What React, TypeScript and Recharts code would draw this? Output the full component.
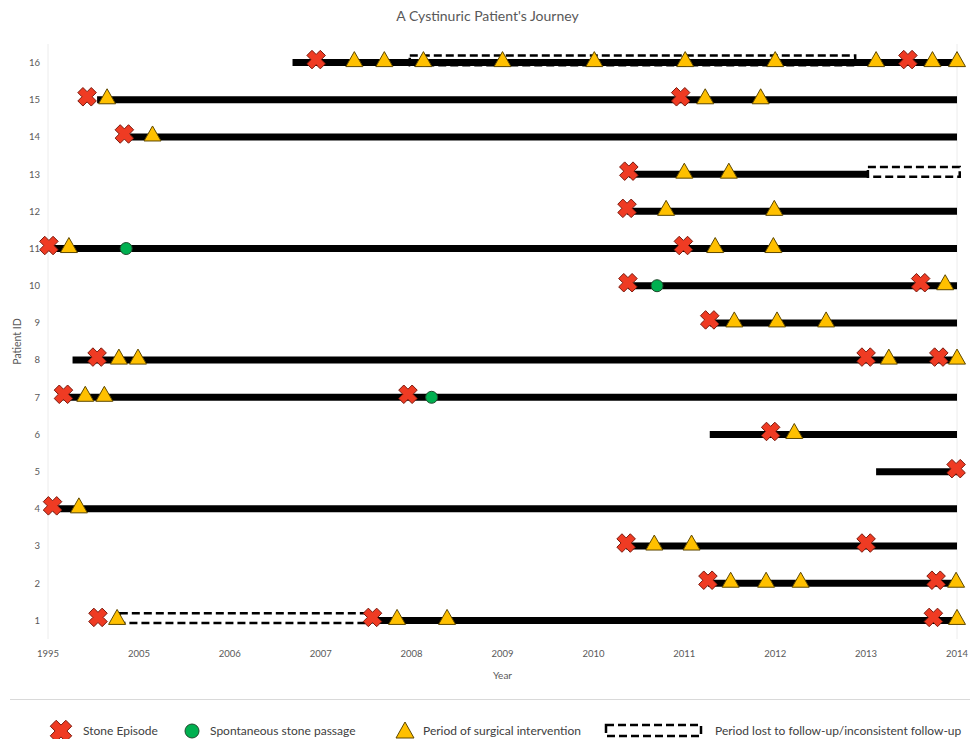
import React from "react";
import {
  ScatterChart,
  Scatter,
  XAxis,
  YAxis,
  CartesianGrid,
  ReferenceLine,
  ReferenceArea,
} from "recharts";

// ---- data ----
const patientIds = [1, 2, 3, 4, 5, 6, 7, 8, 9, 10, 11, 12, 13, 14, 15, 16];
const yearTicks = [2004, 2005, 2006, 2007, 2008, 2009, 2010, 2011, 2012, 2013, 2014];

// follow-up span per patient (solid black bar)
const followStart = [2007.57, 2011.26, 2010.36, 2004.06, 2013.11, 2011.28, 2004.17, 2004.27, 2011.28, 2010.38, 2004.02, 2010.37, 2010.39, 2004.9, 2004.54, 2006.69];
const followEnd = [2014, 2014, 2014, 2014, 2014, 2014, 2014, 2014, 2014, 2014, 2014, 2014, 2013.02, 2014, 2014, 2014];

// lost to follow-up (dashed box)
const lostPatient = [1, 13, 16];
const lostStart = [2004.79, 2013.02, 2007.98];
const lostEnd = [2007.54, 2014.03, 2012.88];

// stone episodes
const stonePatient = [16, 16, 15, 15, 14, 13, 12, 11, 11, 10, 10, 9, 8, 8, 8, 7, 7, 6, 5, 4, 3, 3, 2, 2, 1, 1, 1];
const stoneYear = [2006.95, 2013.46, 2004.43, 2010.96, 2004.84, 2010.39, 2010.37, 2004.01, 2010.99, 2010.38, 2013.6, 2011.28, 2004.54, 2013.0, 2013.8, 2004.17, 2007.96, 2011.95, 2013.99, 2004.05, 2010.36, 2013.0, 2011.26, 2013.77, 2004.55, 2007.57, 2013.74];

// surgical interventions
const surgeryPatient = [16, 16, 16, 16, 16, 16, 16, 16, 16, 16, 15, 15, 15, 14, 13, 13, 12, 12, 11, 11, 11, 10, 9, 9, 9, 8, 8, 8, 8, 7, 7, 6, 4, 3, 3, 2, 2, 2, 2, 1, 1, 1, 1];
const surgeryYear = [2007.37, 2007.7, 2008.13, 2009.0, 2010.01, 2011.01, 2012.0, 2013.11, 2013.73, 2014.0, 2004.65, 2011.23, 2011.84, 2005.15, 2011.0, 2011.49, 2010.8, 2011.99, 2004.23, 2011.34, 2011.98, 2013.87, 2011.55, 2012.02, 2012.56, 2004.78, 2004.99, 2013.25, 2014.0, 2004.41, 2004.62, 2012.21, 2004.34, 2010.67, 2011.08, 2011.51, 2011.9, 2012.28, 2013.99, 2004.76, 2007.84, 2008.39, 2014.0];

// spontaneous stone passage
const passagePatient = [11, 10, 7];
const passageYear = [2004.86, 2010.7, 2008.22];

const stoneData = stoneYear.map((year, i) => ({ year, patient: stonePatient[i] }));
const surgeryData = surgeryYear.map((year, i) => ({ year, patient: surgeryPatient[i] }));
const passageData = passageYear.map((year, i) => ({ year, patient: passagePatient[i] }));

const minorTicks: number[] = [];
for (let i = 0; i <= 50; i++) minorTicks.push(Math.round((2004 + i * 0.2) * 10) / 10);

const FONT = "Lato, 'Open Sans', sans-serif";
const RED = "#EF3B23";
const GOLD = "#FFC000";
const GREEN = "#00B050";

function crossPath(cx: number, cy: number, L: number, w: number) {
  const pts = [
    [-w, -L], [w, -L], [w, -w], [L, -w], [L, w], [w, w],
    [w, L], [-w, L], [-w, w], [-L, w], [-L, -w], [-w, -w],
  ];
  const s = Math.SQRT1_2;
  return pts
    .map(([dx, dy]) => `${cx + (dx - dy) * s},${cy + (dx + dy) * s}`)
    .join(" ");
}

function CrossIcon({ cx, cy, size = 9.5 }: { cx: number; cy: number; size?: number }) {
  return (
    <polygon
      points={crossPath(cx, cy, size, size * 0.38)}
      fill={RED}
      stroke="#7a1a0e"
      strokeWidth={1}
      strokeLinejoin="round"
    />
  );
}

function TriangleIcon({ cx, cy, w = 17, h = 15 }: { cx: number; cy: number; w?: number; h?: number }) {
  return (
    <polygon
      points={`${cx},${cy - h / 2} ${cx + w / 2},${cy + h / 2} ${cx - w / 2},${cy + h / 2}`}
      fill={GOLD}
      stroke="#5e4800"
      strokeWidth={1}
      strokeLinejoin="round"
    />
  );
}

function CircleIcon({ cx, cy, r = 6 }: { cx: number; cy: number; r?: number }) {
  return <circle cx={cx} cy={cy} r={r} fill={GREEN} stroke="#1f4a2c" strokeWidth={1} />;
}

const StoneShape = (props: any) => <CrossIcon cx={props.cx} cy={props.cy - 3} />;
const SurgeryShape = (props: any) => <TriangleIcon cx={props.cx} cy={props.cy - 3.5} />;
const PassageShape = (props: any) => <CircleIcon cx={props.cx} cy={props.cy} />;

const tickStyle = { fill: "#595959", fontSize: 9.5, fontFamily: FONT };

function PatientLabel(props: any) {
  const vb = props.viewBox || {};
  const y = vb.y + vb.height / 2;
  return (
    <text
      x={17}
      y={y}
      transform={`rotate(-90 17 ${y})`}
      textAnchor="middle"
      dominantBaseline="central"
      fill="#595959"
      fontSize={10.5}
      fontFamily={FONT}
    >
      Patient ID
    </text>
  );
}

const legendText: React.CSSProperties = {
  position: "absolute",
  top: 723,
  fontSize: 12,
  color: "#404040",
  fontFamily: FONT,
  lineHeight: "16px",
  whiteSpace: "nowrap",
};

export default function App() {
  return (
    <div style={{ position: "absolute", left: 0, top: 0, width: 979, height: 739, background: "#fff", fontFamily: FONT }}>
      <div
        style={{
          position: "absolute",
          top: 7,
          left: 0,
          width: 975,
          textAlign: "center",
          fontSize: 14,
          color: "#595959",
        }}
      >
        A Cystinuric Patient's Journey
      </div>

      <div style={{ position: "absolute", left: 0, top: 0 }}>
        <ScatterChart width={979} height={700} margin={{ top: 44, right: 22, bottom: 21, left: 0 }}>
          <CartesianGrid xAxisId="grid" horizontal={false} stroke="#ececec" strokeWidth={1} />
          <XAxis xAxisId="grid" type="number" dataKey="year" domain={[2004, 2014]} ticks={minorTicks} hide />
          <XAxis
            type="number"
            dataKey="year"
            domain={[2004, 2014]}
            ticks={yearTicks}
            tickFormatter={(v: number) => (v === 2004 ? "1995" : String(v))}
            axisLine={false}
            tickLine={false}
            tick={tickStyle}
            tickMargin={5}
            height={40}
            label={{ value: "Year", position: "insideBottom", offset: 0, fill: "#595959", fontSize: 10, fontFamily: FONT }}
          />
          <YAxis
            type="number"
            dataKey="patient"
            domain={[0.5, 16.5]}
            ticks={patientIds}
            axisLine={false}
            tickLine={false}
            tick={tickStyle}
            width={48}
            label={<PatientLabel />}
          />

          {lostPatient.map((p, i) => (
            <ReferenceArea
              key={`lost-${i}`}
              x1={lostStart[i]}
              x2={lostEnd[i]}
              y1={p - 0.07}
              y2={p + 0.19}
              fill="#fff"
              fillOpacity={1}
              stroke="#000"
              strokeWidth={2.5}
              strokeDasharray="8 4"
              ifOverflow="visible"
            />
          ))}

          {patientIds.map((p, i) => (
            <ReferenceLine
              key={`line-${p}`}
              segment={[
                { x: followStart[i], y: p },
                { x: followEnd[i], y: p },
              ]}
              stroke="#000"
              strokeWidth={7}
              ifOverflow="visible"
            />
          ))}

          <Scatter name="Stone Episode" data={stoneData} shape={StoneShape} isAnimationActive={false} />
          <Scatter name="Spontaneous stone passage" data={passageData} shape={PassageShape} isAnimationActive={false} />
          <Scatter name="Period of surgical intervention" data={surgeryData} shape={SurgeryShape} isAnimationActive={false} />
        </ScatterChart>
      </div>

      {/* separator */}
      <div style={{ position: "absolute", left: 10, top: 699, width: 960, height: 1, background: "#d9d9d9" }} />

      {/* legend */}
      <svg style={{ position: "absolute", left: 0, top: 715 }} width={979} height={24}>
        <CrossIcon cx={61} cy={16} size={11} />
        <CircleIcon cx={192} cy={16} r={7} />
        <TriangleIcon cx={405} cy={15} w={18} h={16} />
        <rect x={606} y={10} width={95} height={11} fill="#fff" stroke="#000" strokeWidth={2.5} strokeDasharray="8 4" />
      </svg>
      <div style={{ ...legendText, left: 83 }}>Stone Episode</div>
      <div style={{ ...legendText, left: 210 }}>Spontaneous stone passage</div>
      <div style={{ ...legendText, left: 423 }}>Period of surgical intervention</div>
      <div style={{ ...legendText, left: 715 }}>Period lost to follow-up/inconsistent follow-up</div>
    </div>
  );
}
